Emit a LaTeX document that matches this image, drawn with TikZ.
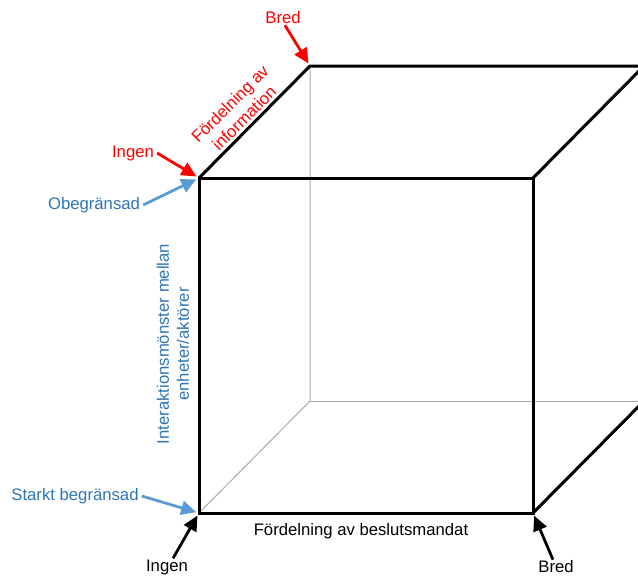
\documentclass[tikz,border=0pt]{standalone}
\usepackage{fontspec}
\setmainfont{Liberation Sans}
\usetikzlibrary{arrows.meta}
\definecolor{redc}{RGB}{255,0,0}
\definecolor{bluet}{RGB}{46,117,182}
\definecolor{bluea}{RGB}{91,155,213}
\definecolor{hidc}{RGB}{170,170,170}
\begin{document}
\begin{tikzpicture}[x=1pt,y=-1pt,
  font=\fontsize{16.7}{20}\selectfont,
  edge/.style={line width=3pt, black},
  hidden/.style={line width=1pt, hidc},
  arr/.style={line width=2.8pt, -{Triangle[length=15pt,width=14pt]}, shorten >=3pt},
  lbl/.style={inner sep=1pt}]
\useasboundingbox (0,0) rectangle (638,576);
\clip (0,0) rectangle (638,576);
% cube corners
\coordinate (FTL) at (199,178);
\coordinate (FTR) at (533,178);
\coordinate (FBR) at (533,513);
\coordinate (FBL) at (199,513);
\coordinate (BTL) at (310,66);
\coordinate (BTR) at (644,66);
\coordinate (BBL) at (310,401);
\coordinate (BBR) at (644,401);
% hidden edges
\draw[hidden] (FBL) -- (BBL) -- (BTL);
\draw[hidden] (BBL) -- (BBR);
% visible edges
\draw[edge] (FTL) -- (FTR) -- (FBR) -- (FBL) -- cycle;
\draw[edge] (FTL) -- (BTL) -- (BTR);
\draw[edge] (FTR) -- (BTR);
\draw[edge] (FBR) -- (BBR);
% labels
\node[lbl, redc] (bredR) at (283,18) {Bred};
\node[lbl, redc] (ingenR) at (133,153) {Ingen};
\node[lbl, redc, rotate=45, align=center] (infoL) at (237,111) {Fördelning av\\information};
\node[lbl, bluet] (obeg) at (94,205) {Obegränsad};
\node[lbl, bluet, rotate=90, align=center] (interL) at (173,344) {Interaktionsmönster mellan\\enheter/aktörer};
\node[lbl, bluet] (stark) at (75,496) {Starkt begränsad};
\node[lbl] (ingenK) at (167,567) {Ingen};
\node[lbl] (mandat) at (361,531) {Fördelning av beslutsmandat};
\node[lbl] (bredK) at (556,567) {Bred};
% arrows
\draw[arr, redc] ([xshift=2pt]bredR.south) -- (BTL);
\draw[arr, redc] ([xshift=2pt]ingenR.east) -- (FTL);
\draw[arr, bluea] ([xshift=2pt]obeg.east) -- (FTL);
\draw[arr, bluea] ([xshift=2pt]stark.east) -- (FBL);
\draw[arr, black] ([xshift=6pt]ingenK.north) -- (FBL);
\draw[arr, black] ([xshift=-3pt]bredK.north) -- (FBR);
\end{tikzpicture}
\end{document}
